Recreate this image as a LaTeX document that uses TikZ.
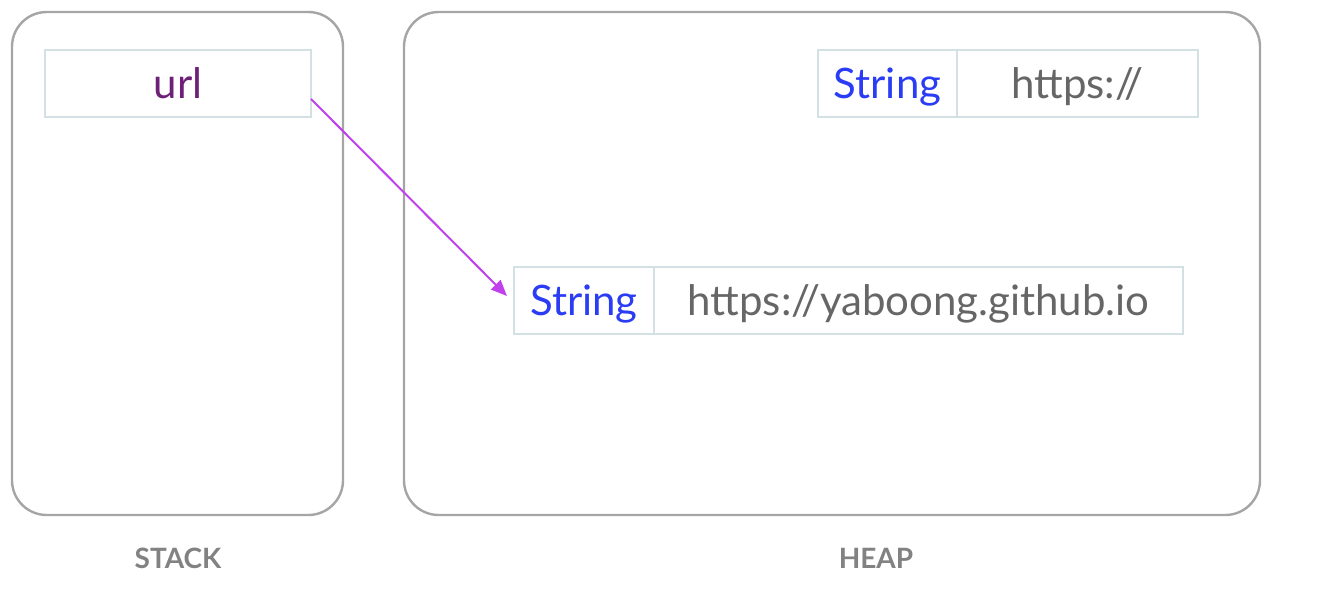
\documentclass[tikz,border=0pt]{standalone}
\usepackage{fontspec}
\setmainfont{Lato}
\usetikzlibrary{arrows.meta}

\definecolor{frameGray}{RGB}{165,165,165}
\definecolor{cellLine}{RGB}{211,224,228}
\definecolor{urlPurple}{RGB}{110,31,120}
\definecolor{typeBlue}{RGB}{43,60,245}
\definecolor{valGray}{RGB}{102,102,102}
\definecolor{labelGray}{RGB}{130,130,130}
\definecolor{ptrPink}{RGB}{192,64,236}

\tikzset{every picture/.style={line width=0.75pt}}
\tikzset{
  area/.style={draw=frameGray, line width=1.8pt, rounded corners=26pt},
  cell/.style={draw=cellLine, line width=0.9pt, anchor=north west, inner sep=0pt, outer sep=0pt, minimum height=50.25pt, text height=22.7pt, text depth=0pt, font=\fontsize{31.5}{34}\selectfont},
  areaname/.style={text=labelGray, font=\fontsize{21}{24}\selectfont\bfseries}
}

\begin{document}
\begin{tikzpicture}[x=0.75pt,y=0.75pt,yscale=-1,xscale=1]
\useasboundingbox (0,0) rectangle (1318,590);

%Rounded Rect [id:stack] 
\draw [area] (12,12) rectangle (343,515) ;
%Rounded Rect [id:heap] 
\draw [area] (404,12) rectangle (1260,515) ;

% Text Node
\node [cell, minimum width=199.5pt, text=urlPurple] (url) at (45,50) {url};
% Text Node
\node [cell, minimum width=104.25pt, text=typeBlue] (strA) at (818,50) {String};
% Text Node
\node [cell, minimum width=180.75pt, text=valGray] (valA) at (957,50) {https://};
% Text Node
\node [cell, minimum width=105pt, text=typeBlue] (strB) at (514,267) {String};
% Text Node
\node [cell, minimum width=396.75pt, text=valGray] (valB) at (654,267) {https://yaboong.github.io};

% Text Node
\node [areaname] (stackName) at (178,558) {STACK};
% Text Node
\node [areaname] (heapName) at (876,558) {HEAP};

%Straight Lines [id:ptr] 
\draw [ptrPink, line width=1.5pt, -{Triangle[length=12pt,width=10pt]}] ([yshift=11.6pt]url.east) -- ([xshift=-5.3pt,yshift=-3.4pt]strB.west) ;

\end{tikzpicture}
\end{document}
